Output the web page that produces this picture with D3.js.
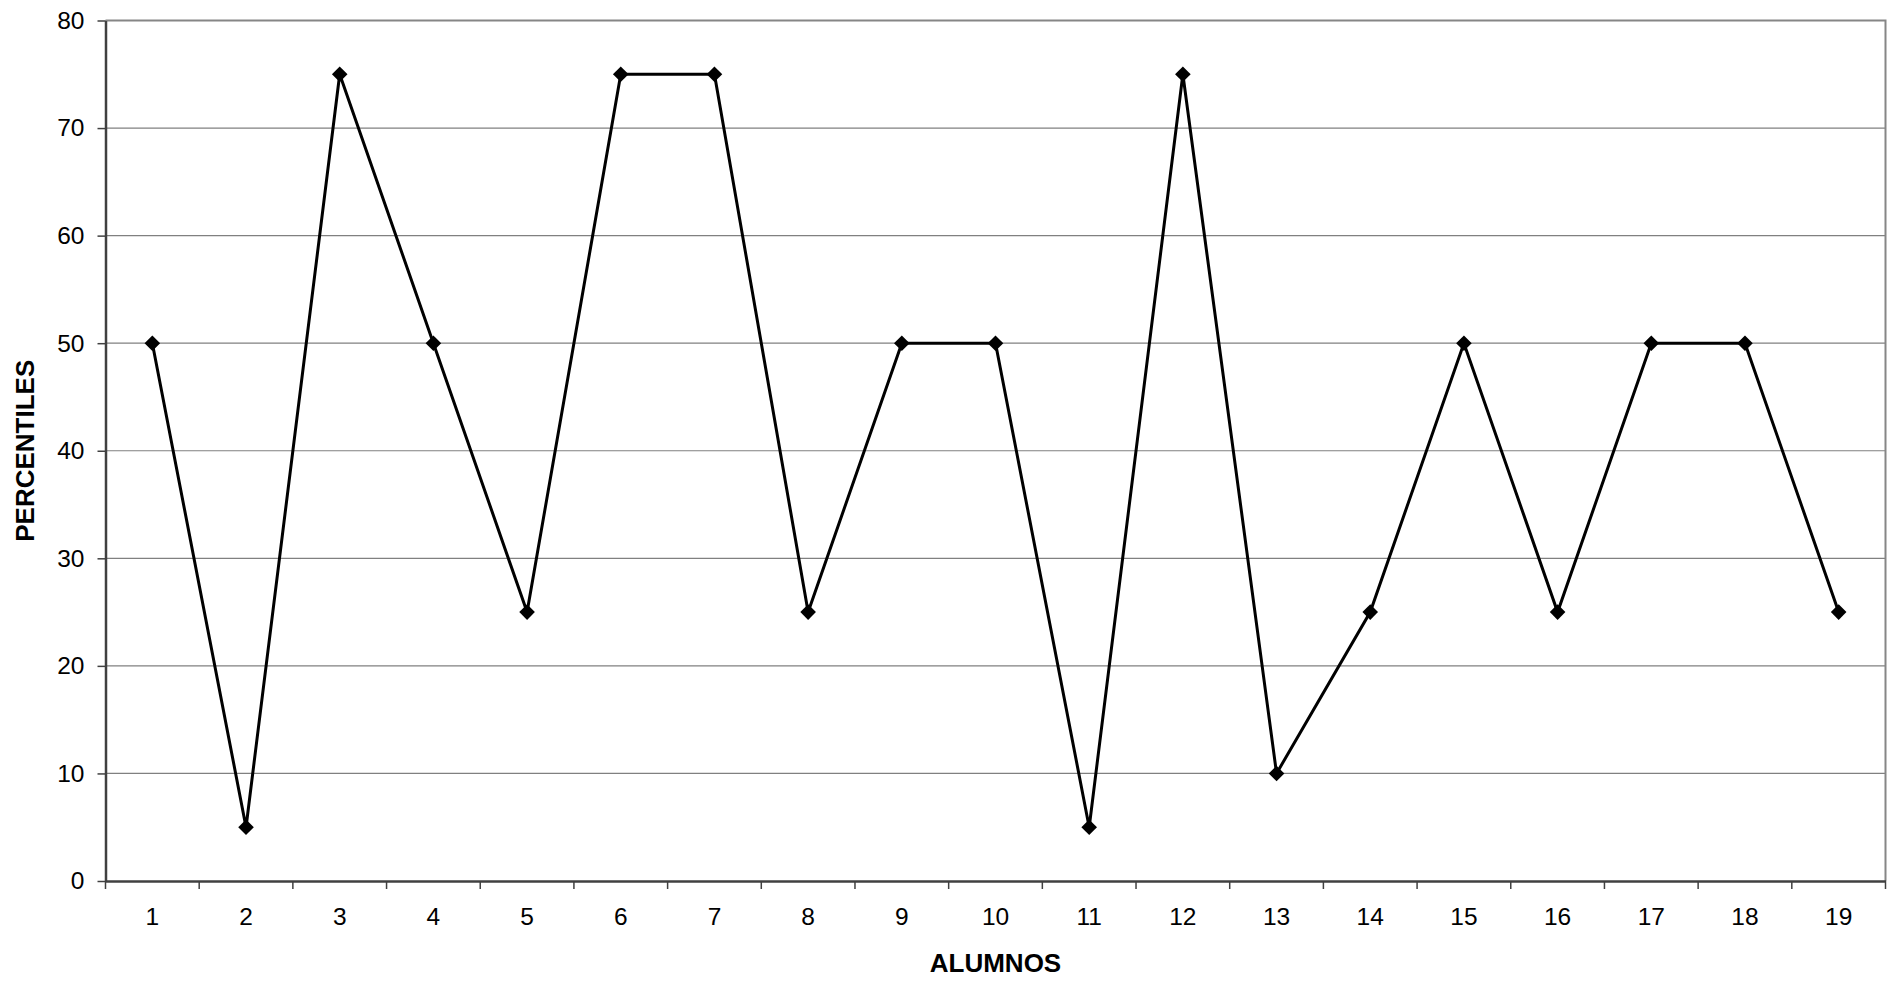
<!DOCTYPE html>
<html>
<head>
<meta charset="utf-8">
<script src="https://cdn.jsdelivr.net/npm/d3@7"></script>
<style>
  html, body { margin: 0; padding: 0; background: #fff; }
  svg { display: block; font-family: "Liberation Sans", Arial, sans-serif; }
</style>
</head>
<body>
<svg id="chart" width="1895" height="982"></svg>
<script>
// Percentile reached by each student
const alumnos = ["1","2","3","4","5","6","7","8","9","10","11","12","13","14","15","16","17","18","19"];
const percentiles = [50, 5, 75, 50, 25, 75, 75, 25, 50, 50, 5, 75, 10, 25, 50, 25, 50, 50, 25];
const yTicks = [0, 10, 20, 30, 40, 50, 60, 70, 80];
const xTitle = "ALUMNOS";
const yTitle = "PERCENTILES";

const svg = d3.select("#chart");
const plot = { left: 105.5, right: 1885.5, top: 20.5, bottom: 881 };

const x = d3.scaleBand().domain(alumnos).range([plot.left, plot.right]).paddingInner(0).paddingOuter(0);
const y = d3.scaleLinear().domain([0, 80]).range([plot.bottom, plot.top]);

// Horizontal gridlines
svg.append("g")
  .selectAll("line")
  .data(yTicks.filter(d => d > 0))
  .join("line")
  .attr("x1", plot.left).attr("x2", plot.right)
  .attr("y1", d => y(d)).attr("y2", d => y(d))
  .attr("stroke", "#808080").attr("stroke-width", 1.2);

// Top and right frame
svg.append("path")
  .attr("d", `M${plot.left},${plot.top}H${plot.right}V${plot.bottom}`)
  .attr("fill", "none").attr("stroke", "#868686").attr("stroke-width", 2);

// Y axis
const yAxis = svg.append("g")
  .attr("transform", `translate(${plot.left},0)`)
  .call(d3.axisLeft(y).tickValues(yTicks).tickSize(8).tickPadding(13).tickSizeOuter(0));
yAxis.select(".domain").attr("stroke", "#404040").attr("stroke-width", 2.5);
yAxis.selectAll(".tick line").attr("stroke", "#404040").attr("stroke-width", 1.5);
yAxis.selectAll(".tick text").attr("font-size", 24.5).attr("fill", "#000")
  .attr("font-family", "'Liberation Sans', Arial, sans-serif");

// X axis with ticks at category boundaries
const xAxis = svg.append("g")
  .attr("transform", `translate(0,${plot.bottom})`)
  .call(d3.axisBottom(x).tickSize(0).tickPadding(27).tickSizeOuter(0));
xAxis.select(".domain").attr("stroke", "#404040").attr("stroke-width", 2.5);
xAxis.selectAll(".tick text").attr("font-size", 24.5).attr("fill", "#000")
  .attr("font-family", "'Liberation Sans', Arial, sans-serif");
const boundaries = alumnos.map(d => x(d)).concat([x(alumnos[alumnos.length - 1]) + x.bandwidth()]);
xAxis.selectAll("line.boundary")
  .data(boundaries)
  .join("line")
  .attr("class", "boundary")
  .attr("x1", d => d).attr("x2", d => d)
  .attr("y1", 0).attr("y2", 8)
  .attr("stroke", "#404040").attr("stroke-width", 1.5);

// Series line
const cx = d => x(d) + x.bandwidth() / 2;
const pts = alumnos.map((a, i) => [cx(a), y(percentiles[i])]);
svg.append("path")
  .attr("d", d3.line()(pts))
  .attr("fill", "none").attr("stroke", "#000").attr("stroke-width", 3)
  .attr("stroke-linejoin", "miter");

// Diamond markers
const r = 7.8;
svg.append("g")
  .selectAll("path")
  .data(pts)
  .join("path")
  .attr("d", ([px, py]) => `M${px},${py - r}L${px + r},${py}L${px},${py + r}L${px - r},${py}Z`)
  .attr("fill", "#000");

// Axis titles
svg.append("text")
  .attr("x", (plot.left + plot.right) / 2).attr("y", 972)
  .attr("text-anchor", "middle")
  .attr("font-size", 26).attr("font-weight", "bold")
  .text(xTitle);

svg.append("text")
  .attr("transform", `translate(34,${(plot.top + plot.bottom) / 2}) rotate(-90)`)
  .attr("text-anchor", "middle")
  .attr("font-size", 26).attr("font-weight", "bold")
  .text(yTitle);
</script>
</body>
</html>
